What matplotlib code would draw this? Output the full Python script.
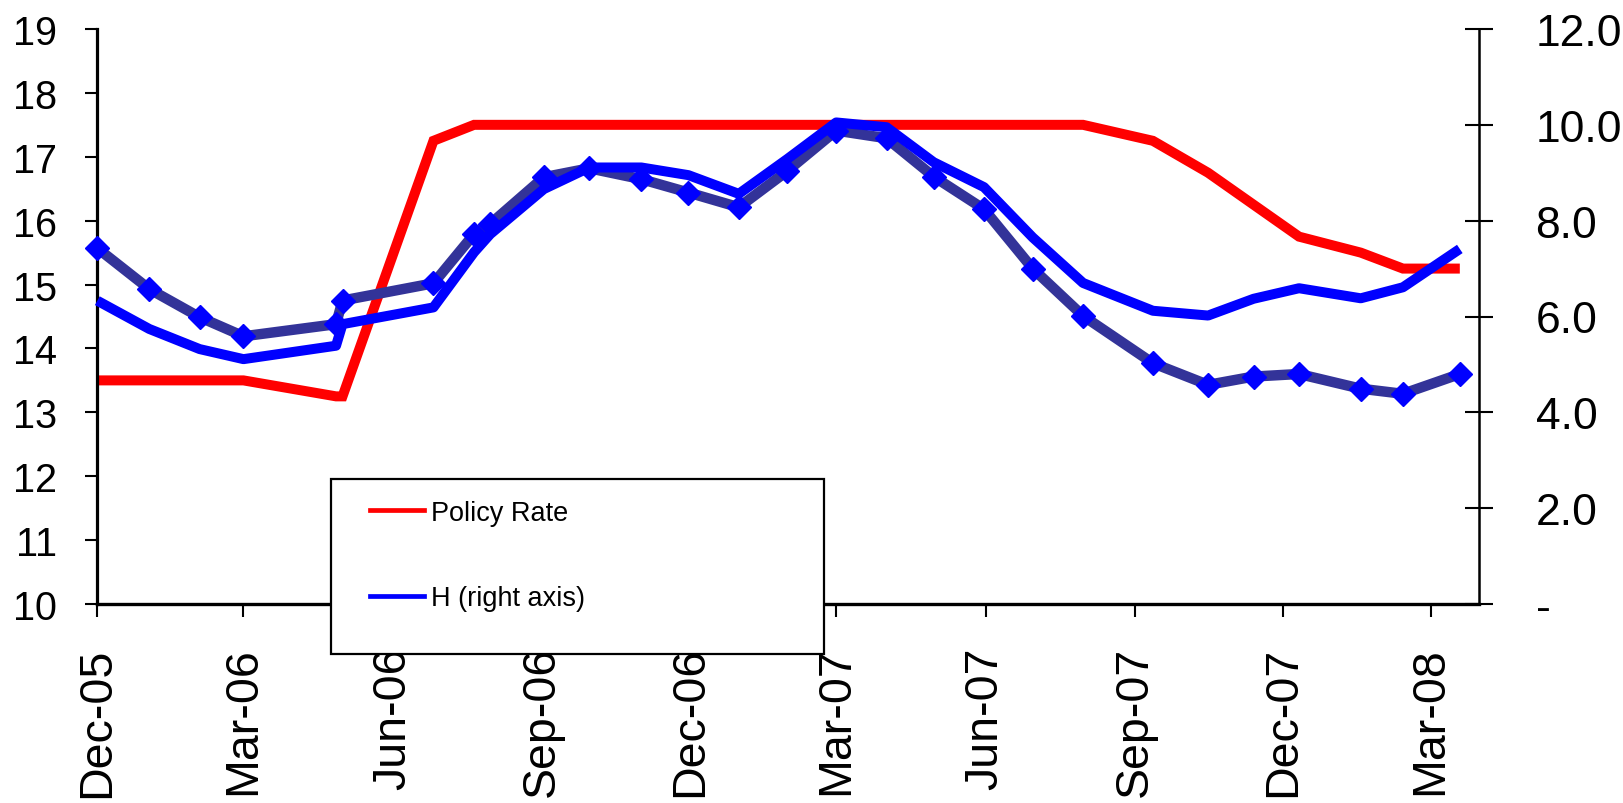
import matplotlib
matplotlib.use("Agg")
import matplotlib.pyplot as plt
from matplotlib.lines import Line2D
from matplotlib.patches import Rectangle
import datetime as dt

plt.rcParams['font.family'] = ['Liberation Sans', 'DejaVu Sans']

# ---------------- data ----------------
dates = ["2005-12-01", "2006-01-02", "2006-02-02", "2006-03-01", "2006-04-27",
         "2006-05-01", "2006-06-26", "2006-07-21", "2006-07-31", "2006-09-02",
         "2006-09-30", "2006-11-01", "2006-11-30", "2006-12-31", "2007-01-30",
         "2007-03-01", "2007-04-01", "2007-04-30", "2007-05-31", "2007-06-30",
         "2007-07-31", "2007-09-12", "2007-10-16", "2007-11-13", "2007-12-11",
         "2008-01-18", "2008-02-13", "2008-03-19"]

policy_rate = [13.5, 13.5, 13.5, 13.5, 13.25, 13.25, 17.25, 17.5, 17.5, 17.5,
               17.5, 17.5, 17.5, 17.5, 17.5, 17.5, 17.5, 17.5, 17.5, 17.5,
               17.5, 17.25, 16.75, 16.25, 15.75, 15.5, 15.25, 15.25]

h_right_axis = [6.33, 5.74, 5.32, 5.11, 5.39, 5.84, 6.19, 7.34, 7.72, 8.66,
                9.11, 9.11, 8.95, 8.56, 9.29, 10.05, 9.95, 9.22, 8.70, 7.65,
                6.70, 6.12, 6.02, 6.37, 6.59, 6.38, 6.61, 7.41]

market_rate = [15.57, 14.93, 14.49, 14.19, 14.38, 14.75, 15.02, 15.79, 15.95, 16.68,
               16.82, 16.65, 16.44, 16.21, 16.78, 17.41, 17.29, 16.69, 16.18, 15.25,
               14.51, 13.77, 13.43, 13.56, 13.60, 13.37, 13.29, 13.60]

x_tick_dates = ["2005-12-01", "2006-03-01", "2006-06-01", "2006-09-01", "2006-12-01",
                "2007-03-01", "2007-06-01", "2007-09-01", "2007-12-01", "2008-03-01"]
x_tick_labels = ["Dec-05", "Mar-06", "Jun-06", "Sep-06", "Dec-06",
                 "Mar-07", "Jun-07", "Sep-07", "Dec-07", "Mar-08"]
left_ticks = [10, 11, 12, 13, 14, 15, 16, 17, 18, 19]
right_ticks = [0, 2, 4, 6, 8, 10, 12]
right_tick_labels = ["-", "2.0", "4.0", "6.0", "8.0", "10.0", "12.0"]
legend_labels = ["Policy Rate", "H (right axis)"]

# ---------------- figure ----------------
to_d = lambda s: dt.datetime.strptime(s, "%Y-%m-%d")
x = [to_d(s) for s in dates]

W, H = 1624, 804
fig = plt.figure(figsize=(W / 100, H / 100), dpi=100)
L, R, T, B = 97.3, 1479.3, 30, 605
ax = fig.add_axes([L / W, 1 - B / H, (R - L) / W, (B - T) / H])
ax2 = ax.twinx()

red = "#FF0000"
blue = "#0000FF"
navy = "#333399"

ax.plot(x, policy_rate, color=red, lw=7.2, solid_joinstyle='miter',
        solid_capstyle='butt', clip_on=False, zorder=2)
ax.plot(x, market_rate, color=navy, lw=7.5, marker='D', ms=12.5,
        mfc=blue, mec=blue, solid_capstyle='butt', clip_on=False, zorder=3)
ax2.plot(x, h_right_axis, color=blue, lw=7.2, solid_capstyle='butt',
         clip_on=False, zorder=3)

ax.set_xlim(to_d("2005-12-01"), to_d("2008-03-31"))
ax.set_ylim(10, 19)
ax2.set_ylim(0, 12)

ax.set_xticks([to_d(s) for s in x_tick_dates])
ax.set_xticklabels(x_tick_labels, rotation=90, fontsize=33.5)
ax.set_yticks(left_ticks)
ax.set_yticklabels([str(v) for v in left_ticks], fontsize=28.5)
ax2.set_yticks(right_ticks)
ax2.set_yticklabels(right_tick_labels, fontsize=32)
for lab in ax2.get_yticklabels():
    lab.set_horizontalalignment('left')

ax.tick_params(axis='y', direction='out', length=8.6, width=1.5, pad=20.5, color='black')
ax.tick_params(axis='x', direction='out', length=9.4, width=1.5, pad=21, color='black')
ax2.tick_params(axis='y', direction='inout', length=20, width=1.5, pad=30.5, color='black')

for s in ['top', 'right']:
    ax.spines[s].set_visible(False)
for s in ['top', 'left', 'bottom']:
    ax2.spines[s].set_visible(False)
ax.spines['left'].set_linewidth(2.3)
ax.spines['bottom'].set_linewidth(2.4)
ax2.spines['right'].set_linewidth(1.8)

# legend frame (white box with black border)
frame = Rectangle((331 / W, 1 - 654.6 / H), 493 / W, 175.1 / H,
                  transform=fig.transFigure, facecolor='white', edgecolor='black',
                  lw=1.6, zorder=10)
fig.add_artist(frame)

handles = [Line2D([], [], color=red, lw=3.4), Line2D([], [], color=blue, lw=3.4)]
leg = fig.legend(handles, legend_labels, loc='center left',
                 bbox_to_anchor=(370 / W, 1 - 556.5 / H), bbox_transform=fig.transFigure,
                 frameon=False, fontsize=19.5, borderpad=0, borderaxespad=0,
                 handlelength=2.0, handletextpad=0.26, labelspacing=2.2)
leg.set_zorder(11)

fig.savefig("out.png", dpi=100, facecolor='white')
